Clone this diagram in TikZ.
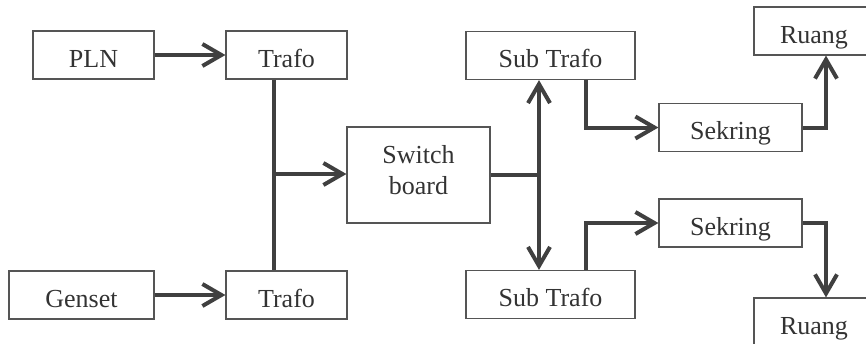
\documentclass[tikz,border=0pt]{standalone}
\usepackage{fontspec}
\setmainfont{Liberation Serif}
\usetikzlibrary{arrows.meta}
\definecolor{linegray}{HTML}{404040}
\definecolor{boxgray}{HTML}{555555}
\definecolor{textgray}{HTML}{333333}

\begin{document}
\begin{tikzpicture}[x=0.5pt, y=-0.5pt,
  box/.style={draw=boxgray, line width=0.6pt, text=textgray, inner sep=0pt,
    minimum height=24pt, text height=12pt, text depth=0pt,
    font=\fontsize{13}{15.5}\selectfont},
  wire/.style={draw=linegray, line width=2pt},
  feed/.style={wire, -{Straight Barb[length=9.5pt,width=11pt]}}]
\useasboundingbox (0,0) rectangle (866,343);

\node [box, minimum width=60.5pt] (PLN) at (93.5,55) {PLN};
\node [box, minimum width=60.5pt] (Trafo1) at (286.5,55) {Trafo};
\node [box, minimum width=72.5pt] (Genset) at (81.5,295) {Genset};
\node [box, minimum width=60.5pt] (Trafo2) at (286.5,295) {Trafo};
\node [box, minimum width=71.5pt, minimum height=48pt, align=center,
  text height=, text depth=5pt] (Switch) at (418.5,175) {Switch\\board};
\node [box, minimum width=84.5pt] (SubTrafo1) at (550.5,55.5) {Sub Trafo};
\node [box, minimum width=84.5pt] (SubTrafo2) at (550.5,294.5) {Sub Trafo};
\node [box, minimum width=71.5pt] (Sekring1) at (730.5,127.5) {Sekring};
\node [box, minimum width=71.5pt] (Sekring2) at (730.5,223) {Sekring};
\node [box, minimum width=60pt] (Ruang1) at (814,31) {Ruang};
\node [box, minimum width=60pt] (Ruang2) at (814,322) {Ruang};

\coordinate (bus) at (274,174);
\coordinate (split) at (539,175);

\draw [feed] (PLN) -- (Trafo1);
\draw [feed] (Genset) -- (Trafo2);
\draw [wire] (Trafo1.south -| bus) -- (Trafo2.north -| bus);
\draw [feed] (bus) -- (bus -| Switch.west);
\draw [wire] (Switch.east |- split) -- (split);
\draw [feed] (split) -- (split |- SubTrafo1.south);
\draw [feed] (split) -- (split |- SubTrafo2.north);
\draw [feed] ([xshift=17.75pt]SubTrafo1.south) |- (Sekring1);
\draw [feed] ([xshift=17.75pt]SubTrafo2.north) |- (Sekring2);
\draw [feed] (Sekring1) -| ([xshift=6pt]Ruang1.south);
\draw [feed] (Sekring2) -| ([xshift=6pt]Ruang2.north);

\end{tikzpicture}
\end{document}
